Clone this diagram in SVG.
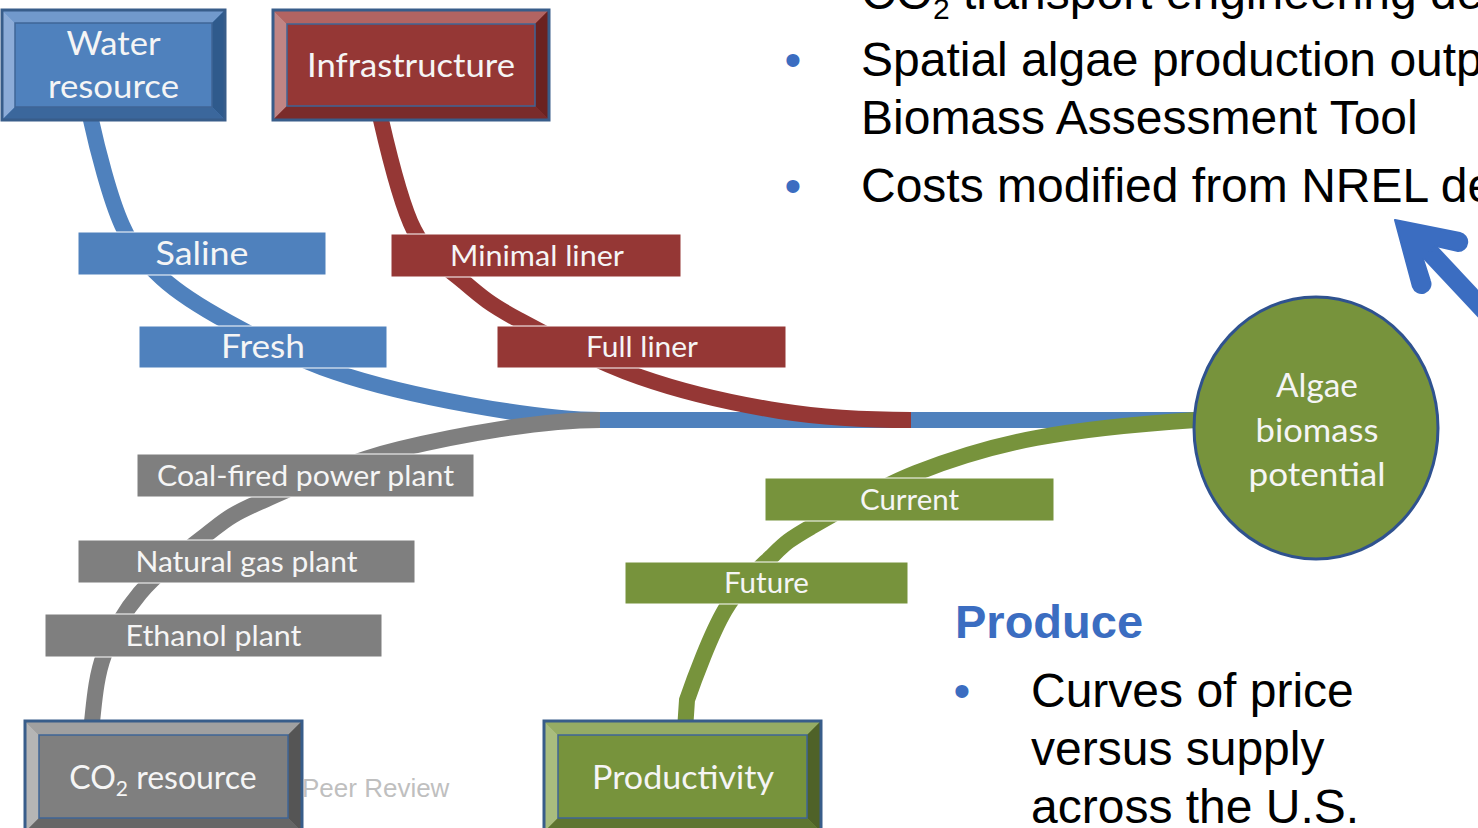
<svg xmlns="http://www.w3.org/2000/svg" width="1478" height="828" viewBox="0 0 1478 828">
<style>
.conn{fill:none;stroke-width:16;stroke-linecap:butt}
.cb{stroke:#4f81bd}.cr{stroke:#953735}.cg{stroke:#7f7f7f}.cv{stroke:#77933c}
.lb{font-family:Lato,"Open Sans",sans-serif;fill:#f5f5f5;text-anchor:middle}
.outl{fill:none;stroke:#385d8a;stroke-width:3}
.inl{fill:none;stroke:#3f6596;stroke-width:1.5}
.body{font-family:"Liberation Sans",Arial,sans-serif;font-size:48px;fill:#000}
.bul{font-family:"Liberation Sans",Arial,sans-serif;font-size:48px;fill:#3b6dc1;text-anchor:middle}
.lab rect{stroke:#ffffff;stroke-width:1}
</style>
<rect width="1478" height="828" fill="#ffffff"/>

<!-- connectors -->
<g id="connectors">
  <path class="conn cb" d="M91,112 L91,120 C97,147.5 110,198.7 122,225 C133.8,251.3 144.3,261.8 162,278 C179.7,294.2 199.2,306.3 228,322 C256.8,337.7 294.7,358.2 335,372 C375.3,385.8 425.8,397 470,405 C514,413 560,420 600,420 L1200,420"/>
  <path class="conn cg" d="M92,730 L92,722 C94.3,701.2 96,676.5 104,655 C112,633.5 123,613 140,593 C157,573 186,550.2 206,535 C226,519.8 227.7,516.3 260,502 C292.3,487.7 343.3,462.7 400,449 C456.7,435.3 540,420 600,420"/>
  <path class="conn cr" d="M381,112 L381,120 C387.5,148.3 400.2,203 414,230 C427.8,257 446.5,267 464,282 C481.5,297 489.7,304.2 519,320 C548.3,335.8 596.5,361.8 640,377 C683.5,392.2 734.8,403.8 780,411 C825,418 870,420 911,420"/>
  <path class="conn cv" d="M1200,420 L1196,420 C1152,423 1082.7,429.2 1036,438 C989.3,446.8 953.5,458.2 916,473 C878.5,487.8 835.2,513 811,527 C786.8,541 785.3,543.2 771,557 C756.7,570.8 739,586.2 725,610 C711,633.8 693.8,680 687,700 L685,730"/>
</g>

<!-- Water resource -->
<g id="water-resource">
  <rect x="2" y="10" width="223" height="110" fill="#4f81bd"/>
  <polygon points="2,10 225,10 212,23 15,23" fill="#7199cc"/>
  <polygon points="2,10 15,23 15,107 2,120" fill="#8cacd8"/>
  <polygon points="225,10 225,120 212,107 212,23" fill="#2f5a8c"/>
  <polygon points="2,120 225,120 212,107 15,107" fill="#3b679c"/>
  <rect class="inl" x="15" y="23" width="197" height="84"/>
  <rect class="outl" x="2" y="10" width="223" height="110"/>
  <text class="lb" x="113.5" y="55" font-size="32" textLength="94" lengthAdjust="spacingAndGlyphs">Water</text>
  <text class="lb" x="113.5" y="98" font-size="32" textLength="131" lengthAdjust="spacingAndGlyphs">resource</text>
</g>

<!-- Infrastructure -->
<g id="infrastructure">
  <rect x="273" y="10" width="276" height="110" fill="#953735"/>
  <polygon points="273,10 549,10 535,24 287,24" fill="#b26462"/>
  <polygon points="273,10 287,24 287,106 273,120" fill="#c08584"/>
  <polygon points="549,10 549,120 535,106 535,24" fill="#6b2221"/>
  <polygon points="273,120 549,120 535,106 287,106" fill="#7a2b2a"/>
  <rect class="inl" x="287" y="24" width="248" height="82"/>
  <rect class="outl" x="273" y="10" width="276" height="110"/>
  <text class="lb" x="411" y="77" font-size="32" textLength="208" lengthAdjust="spacingAndGlyphs">Infrastructure</text>
</g>

<!-- CO2 resource -->
<g id="co2-resource">
  <rect x="25" y="721" width="277" height="111" fill="#7f7f7f"/>
  <polygon points="25,721 302,721 288,735 39,735" fill="#a0a0a0"/>
  <polygon points="25,721 39,735 39,818 25,832" fill="#b5b5b5"/>
  <polygon points="302,721 302,832 288,818 288,735" fill="#555555"/>
  <polygon points="25,832 302,832 288,818 39,818" fill="#666666"/>
  <rect class="inl" x="39" y="735" width="249" height="83"/>
  <rect class="outl" x="25" y="721" width="277" height="111"/>
  <text class="lb" x="163" y="789" font-size="32">CO<tspan font-size="21" dy="7">2</tspan><tspan dy="-7"> resource</tspan></text>
</g>

<!-- Productivity -->
<g id="productivity">
  <rect x="544" y="721" width="277" height="111" fill="#77933c"/>
  <polygon points="544,721 821,721 807,735 558,735" fill="#95ac64"/>
  <polygon points="544,721 558,735 558,818 544,832" fill="#a9bd7e"/>
  <polygon points="821,721 821,832 807,818 807,735" fill="#4f6228"/>
  <polygon points="544,832 821,832 807,818 558,818" fill="#5e7530"/>
  <rect class="inl" x="558" y="735" width="249" height="83"/>
  <rect class="outl" x="544" y="721" width="277" height="111"/>
  <text class="lb" x="683" y="789" font-size="32" textLength="182" lengthAdjust="spacingAndGlyphs">Productivity</text>
</g>

<!-- Algae biomass potential -->
<g id="algae-biomass-potential">
  <ellipse cx="1316" cy="428" rx="122" ry="131" fill="#77933c" stroke="#2f528f" stroke-width="3"/>
  <text class="lb" x="1317" y="397" font-size="32" textLength="82" lengthAdjust="spacingAndGlyphs">Algae</text>
  <text class="lb" x="1317" y="442" font-size="32" textLength="123" lengthAdjust="spacingAndGlyphs">biomass</text>
  <text class="lb" x="1317" y="486" font-size="32" textLength="137" lengthAdjust="spacingAndGlyphs">potential</text>
</g>

<!-- labels -->
<g id="saline" class="lab">
  <rect x="78" y="232" width="248" height="43" fill="#4f81bd"/>
  <text class="lb" x="202" y="265" font-size="33.5" textLength="93" lengthAdjust="spacingAndGlyphs">Saline</text>
</g>
<g id="fresh" class="lab">
  <rect x="139" y="326" width="248" height="42" fill="#4f81bd"/>
  <text class="lb" x="263" y="358" font-size="33.5" textLength="84" lengthAdjust="spacingAndGlyphs">Fresh</text>
</g>
<g id="minimal-liner" class="lab">
  <rect x="391" y="234" width="290" height="43" fill="#953735"/>
  <text class="lb" x="537" y="266" font-size="28.5" textLength="174" lengthAdjust="spacingAndGlyphs">Minimal liner</text>
</g>
<g id="full-liner" class="lab">
  <rect x="497" y="326" width="289" height="42" fill="#953735"/>
  <text class="lb" x="642" y="357" font-size="28.5" textLength="112" lengthAdjust="spacingAndGlyphs">Full liner</text>
</g>
<g id="coal-fired-power-plant" class="lab">
  <rect x="137" y="454" width="337" height="43" fill="#7f7f7f"/>
  <text class="lb" x="305.5" y="486" font-size="28.5" textLength="297" lengthAdjust="spacingAndGlyphs">Coal-fired power plant</text>
</g>
<g id="natural-gas-plant" class="lab">
  <rect x="78" y="540" width="337" height="43" fill="#7f7f7f"/>
  <text class="lb" x="246.5" y="572" font-size="28.5" textLength="222" lengthAdjust="spacingAndGlyphs">Natural gas plant</text>
</g>
<g id="ethanol-plant" class="lab">
  <rect x="45" y="614" width="337" height="43" fill="#7f7f7f"/>
  <text class="lb" x="213.5" y="646" font-size="28.5" textLength="176" lengthAdjust="spacingAndGlyphs">Ethanol plant</text>
</g>
<g id="current" class="lab">
  <rect x="765" y="478" width="289" height="43" fill="#77933c"/>
  <text class="lb" x="909.5" y="510" font-size="28.5" textLength="99" lengthAdjust="spacingAndGlyphs">Current</text>
</g>
<g id="future" class="lab">
  <rect x="625" y="562" width="283" height="42" fill="#77933c"/>
  <text class="lb" x="766.5" y="593" font-size="28.5" textLength="85" lengthAdjust="spacingAndGlyphs">Future</text>
</g>

<!-- footer -->
<text x="302" y="797" font-family="Liberation Sans, Arial, sans-serif" font-size="26" fill="#bfbfbf">Peer Review</text>

<!-- right-hand text -->
<g id="bullets-top">
  <text class="body" x="861" y="9">CO<tspan font-size="30" dy="10">2</tspan><tspan dy="-10"> transport engineering de</tspan></text>
  <text class="bul" x="793" y="76">•</text>
  <text class="body" x="861" y="76">Spatial algae production outp</text>
  <text class="body" x="861" y="134">Biomass Assessment Tool</text>
  <text class="bul" x="793" y="202">•</text>
  <text class="body" x="861" y="202">Costs modified from NREL de</text>
</g>

<g id="produce">
  <text x="955" y="638" font-family="Liberation Sans, Arial, sans-serif" font-weight="bold" font-size="47" fill="#3b6dc1">Produce</text>
  <text class="bul" x="962" y="707">•</text>
  <text class="body" x="1031" y="707">Curves of price</text>
  <text class="body" x="1031" y="765">versus supply</text>
  <text class="body" x="1031" y="823">across the U.S.</text>
</g>

<!-- blue arrow -->
<g id="arrow" fill="#3b6dc1">
  <line x1="1425" y1="247" x2="1530" y2="359" stroke="#3b6dc1" stroke-width="19"/>
  <path d="M1395,220 L1460,233 A9.1,9.1 0 0 1 1458,251 L1436,246 L1423,259 L1430,281 A9,9 0 0 1 1413,287 Z" stroke="#3b6dc1" stroke-width="2" stroke-linejoin="round"/>
</g>
</svg>
